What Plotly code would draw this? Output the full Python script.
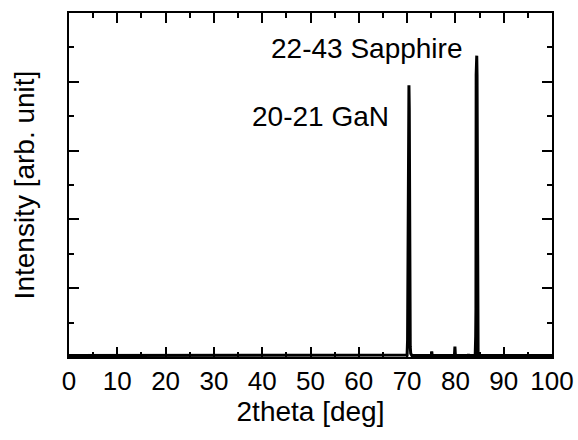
import plotly.graph_objects as go

# Diffraction scan (2theta in deg, intensity in arbitrary units)
two_theta = [0, 10, 20, 30, 40, 50, 60, 69.5, 70.0, 70.1, 70.15, 70.2, 70.28, 70.33, 70.38, 70.45,
             70.5, 70.55, 70.65, 70.75, 71.0, 75.0, 75.1, 75.2, 79.8, 79.9, 80.0, 82.6, 82.7, 82.8,
             84.1, 84.2, 84.25, 84.3, 84.35, 84.42, 84.48, 84.55, 84.6, 84.7, 90, 100]
intensity = [0.02, 0.02, 0.02, 0.02, 0.02, 0.02, 0.02, 0.02, 0.03, 0.25, 1.1, 1.3, 3.6, 3.95, 3.95, 3.6,
             1.0, 0.85, 0.15, 0.05, 0.02, 0.02, 0.08, 0.02, 0.02, 0.15, 0.02, 0.02, 0.04, 0.02,
             0.02, 0.3, 0.7, 4.1, 4.38, 4.38, 4.1, 0.6, 0.1, 0.02, 0.02, 0.02]

labels = ["22-43 Sapphire", "20-21 GaN"]
label_x = [61.5, 52.0]
label_y = [4.49, 3.5]

font_family = "Arial, Liberation Sans, sans-serif"

fig = go.Figure()
fig.add_trace(go.Scatter(x=two_theta, y=intensity, mode="lines",
                         line=dict(color="black", width=3), showlegend=False))

for t, x, y in zip(labels, label_x, label_y):
    fig.add_annotation(x=x, y=y, text=t, showarrow=False,
                       font=dict(family=font_family, size=28, color="black"))

axis_common = dict(showline=True, linecolor="black", linewidth=2, mirror="ticks",
                   ticks="inside", ticklen=10, tickwidth=2, tickcolor="black",
                   showgrid=False, zeroline=False, automargin=False)

fig.update_layout(
    width=578, height=440,
    margin=dict(l=69, r=26, t=13, b=83),
    plot_bgcolor="white", paper_bgcolor="white",
    font=dict(family=font_family, size=25, color="black"),
    xaxis=dict(range=[0, 100], dtick=10, tick0=0,
               minor=dict(ticks="inside", ticklen=5, tickwidth=2, tickcolor="black", dtick=5),
               title=dict(text="2theta [deg]", font=dict(size=28), standoff=6),
               tickfont=dict(size=26),
               **axis_common),
    yaxis=dict(range=[0, 5], dtick=1, tick0=0, showticklabels=False,
               minor=dict(ticks="inside", ticklen=5, tickwidth=2, tickcolor="black", dtick=0.5),
               title=dict(text="Intensity [arb. unit]", font=dict(size=28), standoff=24),
               **axis_common),
)

fig.write_html("out.html")
